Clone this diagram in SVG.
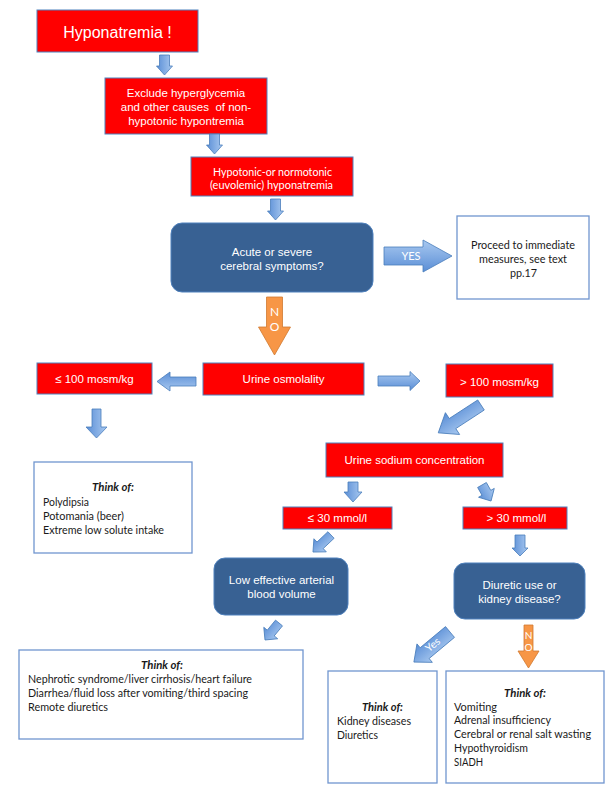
<svg xmlns="http://www.w3.org/2000/svg" width="606" height="794" viewBox="0 0 606 794">
<style>
.red{fill:#ff0000;stroke:#4f81bd;stroke-width:1}
.blu{fill:#386193;stroke:#4f81bd;stroke-width:1}
.wht{fill:#ffffff;stroke:#7096cf;stroke-width:1.3}
.arw{fill:url(#bg);stroke:#4a7ebb;stroke-width:0.8}
.org{fill:#f79646;stroke:#d07a30;stroke-width:0.8}
.ar{font-family:"Liberation Sans",Arial,sans-serif;fill:#ffffff;text-anchor:middle;font-size:11.5px}
.ca{font-family:Lato,"Open Sans",sans-serif;fill:#1a1a1a;font-size:11px}
.cw{font-family:Lato,"Open Sans",sans-serif;fill:#ffffff;font-size:11px;text-anchor:middle}
.th{font-weight:bold;font-style:italic;text-anchor:middle}
</style>
<defs>
<linearGradient id="bg" x1="0" y1="0" x2="0" y2="1">
<stop offset="0" stop-color="#a9c9f0"/>
<stop offset="1" stop-color="#5a8ed6"/>
</linearGradient>
</defs>

<g id="n-hyponatremia"><rect class="red" x="37" y="10" width="161" height="42"/><text class="ar" x="117.5" y="37.5" font-size="16" style="font-size:16px">Hyponatremia !</text></g>
<g id="n-exclude"><rect class="red" x="105" y="78" width="162" height="56"/><text class="ar" x="186" y="97">Exclude hyperglycemia</text><text class="ar" x="186" y="111" xml:space="preserve">and other causes  of non-</text><text class="ar" x="186" y="124.5">hypotonic hypontremia</text></g>
<g id="n-hypotonic"><rect class="red" x="191" y="157" width="162" height="39"/><text class="cw" x="272.5" y="176" textLength="119" lengthAdjust="spacingAndGlyphs">Hypotonic-or normotonic</text><text class="cw" x="271.5" y="188.5" textLength="123" lengthAdjust="spacingAndGlyphs">(euvolemic) hyponatremia</text></g>
<g id="n-acute"><rect class="blu" x="171" y="223" width="202" height="69" rx="11"/><text class="ar" x="272" y="256">Acute or severe</text><text class="ar" x="272" y="269.5">cerebral symptoms?</text></g>
<g id="n-proceed"><rect class="wht" x="457" y="216" width="132" height="83"/><text class="ca" x="523" y="249" text-anchor="middle" textLength="104" lengthAdjust="spacingAndGlyphs">Proceed to immediate</text><text class="ca" x="523" y="263" text-anchor="middle" textLength="88" lengthAdjust="spacingAndGlyphs">measures, see text</text><text class="ca" x="523.5" y="276.5" text-anchor="middle" textLength="27" lengthAdjust="spacingAndGlyphs">pp.17</text></g>
<g id="n-urine-osm"><rect class="red" x="203" y="363" width="161" height="32"/><text class="ar" x="283.5" y="383">Urine osmolality</text></g>
<g id="n-le100"><rect class="red" x="37" y="363" width="115" height="31"/><text class="ar" x="94.5" y="383">≤ 100 mosm/kg</text></g>
<g id="n-gt100"><rect class="red" x="446" y="364" width="107" height="33"/><text class="ar" x="499.5" y="385.5">&gt; 100 mosm/kg</text></g>
<g id="n-think1"><rect class="wht" x="34" y="462" width="158" height="91"/><text class="ca th" x="113" y="491" textLength="42" lengthAdjust="spacingAndGlyphs">Think of:</text><text class="ca" x="43" y="505.5" textLength="46" lengthAdjust="spacingAndGlyphs">Polydipsia</text><text class="ca" x="43" y="519.5" textLength="81" lengthAdjust="spacingAndGlyphs">Potomania (beer)</text><text class="ca" x="43" y="533.5" textLength="121" lengthAdjust="spacingAndGlyphs">Extreme low solute intake</text></g>
<g id="n-urine-na"><rect class="red" x="326" y="443" width="177" height="34"/><text class="ar" x="414.5" y="464">Urine sodium concentration</text></g>
<g id="n-le30"><rect class="red" x="283" y="507" width="109" height="22"/><text class="ar" x="337.5" y="522">≤ 30 mmol/l</text></g>
<g id="n-gt30"><rect class="red" x="463" y="507" width="104" height="22"/><text class="ar" x="516.5" y="522">&gt; 30 mmol/l</text></g>
<g id="n-low-eabv"><rect class="blu" x="214" y="558" width="134" height="57" rx="11"/><text class="ar" x="281.5" y="584">Low effective arterial</text><text class="ar" x="281.5" y="597.5">blood volume</text></g>
<g id="n-diuretic"><rect class="blu" x="454" y="563" width="131" height="56" rx="11"/><text class="ar" x="519.5" y="589">Diuretic use or</text><text class="ar" x="519.5" y="603">kidney disease?</text></g>
<g id="n-think2"><rect class="wht" x="19" y="650" width="284" height="89"/><text class="ca th" x="162" y="669" textLength="42" lengthAdjust="spacingAndGlyphs">Think of:</text><text class="ca" x="28" y="683" textLength="224" lengthAdjust="spacingAndGlyphs">Nephrotic syndrome/liver cirrhosis/heart failure</text><text class="ca" x="28" y="697" textLength="220" lengthAdjust="spacingAndGlyphs">Diarrhea/fluid loss after vomiting/third spacing</text><text class="ca" x="28" y="711" textLength="80" lengthAdjust="spacingAndGlyphs">Remote diuretics</text></g>
<g id="n-think3"><rect class="wht" x="328" y="671" width="109" height="112"/><text class="ca th" x="382.5" y="711" textLength="41" lengthAdjust="spacingAndGlyphs">Think of:</text><text class="ca" x="337" y="725" textLength="74" lengthAdjust="spacingAndGlyphs">Kidney diseases</text><text class="ca" x="337" y="738.5" textLength="41" lengthAdjust="spacingAndGlyphs">Diuretics</text></g>
<g id="n-think4"><rect class="wht" x="446" y="671" width="158" height="112"/><text class="ca th" x="525" y="697" textLength="42" lengthAdjust="spacingAndGlyphs">Think of:</text><text class="ca" x="454" y="710.5" textLength="43" lengthAdjust="spacingAndGlyphs">Vomiting</text><text class="ca" x="454" y="724" textLength="97" lengthAdjust="spacingAndGlyphs">Adrenal insufficiency</text><text class="ca" x="454" y="738" textLength="137" lengthAdjust="spacingAndGlyphs">Cerebral or renal salt wasting</text><text class="ca" x="454" y="752" textLength="74" lengthAdjust="spacingAndGlyphs">Hypothyroidism</text><text class="ca" x="454" y="765.5" textLength="29" lengthAdjust="spacingAndGlyphs">SIADH</text></g>

<g id="connectors">
<polygon class="arw" transform="translate(164.5,55) rotate(90)" points="0,-5 11,-5 11,-8 20,0 11,8 11,5 0,5"/>
<polygon class="arw" transform="translate(214.5,134) rotate(90)" points="0,-5 11,-5 11,-8 20,0 11,8 11,5 0,5"/>
<polygon class="arw" transform="translate(275.5,199) rotate(90)" points="0,-5 12,-5 12,-8 21,0 12,8 12,5 0,5"/>
<g transform="translate(384,256)"><polygon class="arw" points="0,-9 39,-9 39,-16 68,0 39,16 39,9 0,9"/></g>
<text class="cw" x="411" y="260" style="font-size:11px">YES</text>
<polygon class="org" transform="translate(274.5,297)" points="-8,0 8,0 8,30 16,30 0,58 -16,30 -8,30"/>
<text class="cw" x="274.5" y="315.5" style="font-size:12px">N</text>
<text class="cw" x="274.5" y="331" style="font-size:12px">O</text>
<polygon class="arw" transform="translate(196,381.5) rotate(180)" points="0,-4.5 26,-4.5 26,-9.5 39,0 26,9.5 26,4.5 0,4.5"/>
<polygon class="arw" transform="translate(378,381)" points="0,-5 32,-5 32,-9.5 42,0 32,9.5 32,5 0,5"/>
<polygon class="arw" transform="translate(96.5,409) rotate(90)" points="0,-4.5 18,-4.5 18,-10.5 29,0 18,10.5 18,4.5 0,4.5"/>
<polygon class="arw" transform="translate(481,405) rotate(146.9)" points="0,-6 34,-6 34,-13 51,0 34,13 34,6 0,6"/>
<polygon class="arw" transform="translate(353,482) rotate(90)" points="0,-5 10,-5 10,-9 20,0 10,9 10,5 0,5"/>
<polygon class="arw" transform="translate(482,485) rotate(60.6)" points="0,-5 9,-5 9,-9 18.4,0 9,9 9,5 0,5"/>
<polygon class="arw" transform="translate(331,535) rotate(136.6)" points="0,-4.5 15,-4.5 15,-9 24.8,0 15,9 15,4.5 0,4.5"/>
<polygon class="arw" transform="translate(520,535) rotate(90)" points="0,-5 13,-5 13,-8 21,0 13,8 13,5 0,5"/>
<polygon class="arw" transform="translate(279,623) rotate(129.5)" points="0,-4.5 13,-4.5 13,-9 22,0 13,9 13,4.5 0,4.5"/>
<polygon class="arw" transform="translate(450,632) rotate(140.2)" points="0,-7 33,-7 33,-12 47,0 33,12 33,7 0,7"/>
<text class="cw" transform="translate(435,647.5) rotate(-39.8)" x="0" y="0" style="font-size:10.5px">Yes</text>
<polygon class="org" transform="translate(528.5,625)" points="-4.5,0 4.5,0 4.5,26 10.5,26 0,43 -10.5,26 -4.5,26"/>
<text class="cw" x="528.5" y="638.5" style="font-size:10px">N</text>
<text class="cw" x="528.5" y="650.5" style="font-size:10px">O</text>
</g>
</svg>
